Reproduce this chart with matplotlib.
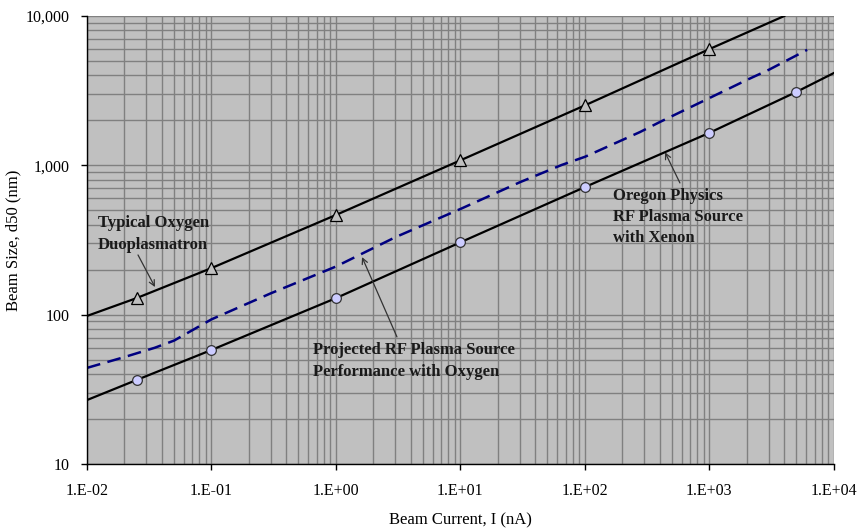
import matplotlib
matplotlib.use("Agg")
import matplotlib.pyplot as plt
import numpy as np
from matplotlib.ticker import LogLocator, NullFormatter, FixedLocator

# Typical oxygen duoplasmatron (triangles)
duo_x = [0.01, 0.025, 0.1, 1, 10, 100, 1000, 4000]
duo_y = [98, 129, 205, 465, 1080, 2520, 6000, 10000]

# Oregon Physics RF plasma source with xenon (circles)
xe_x = [0.01, 0.025, 0.1, 1, 10, 100, 1000, 5000, 10000]
xe_y = [26.8, 36.5, 58, 129, 305, 715, 1650, 3100, 4150]

# Projected RF plasma source with oxygen (dashed)
ox_x = [0.01, 0.02, 0.035, 0.05, 0.1, 0.3, 1, 3, 10, 30, 65, 100, 277, 400, 590, 1000, 2000, 3000, 6100]
ox_y = [44, 52, 60, 67, 93, 139, 210, 330, 510, 770, 1005, 1140, 1670, 1950, 2280, 2820, 3730, 4360, 5930]

x_ticks = [1e-2, 1e-1, 1e0, 1e1, 1e2, 1e3, 1e4]
x_labels = ["1.E-02", "1.E-01", "1.E+00", "1.E+01", "1.E+02", "1.E+03", "1.E+04"]
y_ticks = [10, 100, 1000, 10000]
y_labels = ["10", "100", "1,000", "10,000"]

serif = ["Liberation Serif", "DejaVu Serif"]
plt.rcParams['font.family'] = serif

fig = plt.figure(figsize=(8.57, 5.29), dpi=100)
ax = fig.add_axes([0.1015, 0.1229, 0.8715, 0.8469])
ax.set_facecolor("#C0C0C0")
ax.set_xscale("log")
ax.set_yscale("log")
ax.set_xlim(1e-2, 1e4)
ax.set_ylim(10, 10000)

ax.xaxis.set_minor_locator(LogLocator(base=10, subs=np.arange(2, 10)))
ax.yaxis.set_minor_locator(LogLocator(base=10, subs=np.arange(2, 10)))
ax.xaxis.set_minor_formatter(NullFormatter())
ax.yaxis.set_minor_formatter(NullFormatter())
ax.grid(True, which="both", color="#808080", lw=1.0)
ax.set_axisbelow(True)
ax.tick_params(which="minor", length=0)
ax.tick_params(which="major", length=4.5, width=1, color="black", labelsize=11.5)
ax.tick_params(axis="x", which="major", pad=9)
ax.tick_params(axis="y", which="major", pad=8)

ax.xaxis.set_major_locator(FixedLocator(x_ticks))
ax.set_xticklabels(x_labels)
ax.yaxis.set_major_locator(FixedLocator(y_ticks))
ax.set_yticklabels(y_labels)

for s in ["top", "right"]:
    ax.spines[s].set_visible(False)
for s in ["left", "bottom"]:
    ax.spines[s].set_color("black")
    ax.spines[s].set_linewidth(1.0)

ax.plot(duo_x, duo_y, color="black", lw=1.6, marker="^", markersize=8.5,
        markerfacecolor="#C0C0C0", markeredgecolor="black", markeredgewidth=0.9,
        markevery=list(range(1, len(duo_x) - 1)))
ax.plot(xe_x, xe_y, color="black", lw=1.6, marker="o", markersize=7,
        markerfacecolor="#CCCCFF", markeredgecolor="#333333", markeredgewidth=0.9,
        markevery=list(range(1, len(xe_x) - 1)))
ax.plot(ox_x, ox_y, color="#000080", lw=1.8, dashes=(5.5, 3))

bold = dict(fontsize=12, fontweight="bold", color="#1a1a1a")
arrow = dict(arrowstyle="->", color="#333333", lw=0.9, shrinkA=0, shrinkB=0)

ax.annotate("", xy=(0.0352, 153), xytext=(0.0257, 251), arrowprops=arrow)
ax.text(0.0122, 347, "Typical Oxygen\nDuoplasmatron", va="center", ha="left",
        linespacing=1.55, **bold)

ax.annotate("", xy=(1.62, 243), xytext=(3.09, 71), arrowprops=arrow)
ax.text(0.65, 49, "Projected RF Plasma Source\nPerformance with Oxygen",
        va="center", ha="left", linespacing=1.55, **bold)

ax.annotate("", xy=(440, 1222), xytext=(580, 762), arrowprops=arrow)
ax.text(168, 451, "Oregon Physics\nRF Plasma Source\nwith Xenon",
        va="center", ha="left", linespacing=1.45, **bold)

ax.set_xlabel("Beam Current, I (nA)", fontsize=12, labelpad=10)
ax.set_ylabel("Beam Size, d50 (nm)", fontsize=12)
ax.yaxis.set_label_coords(-0.088, 0.5)

fig.savefig("out.png", dpi=100)
